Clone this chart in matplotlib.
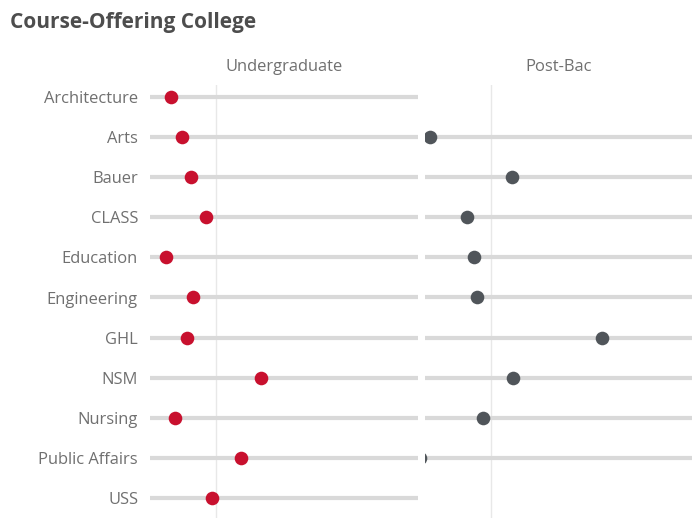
import matplotlib
matplotlib.use("Agg")
import matplotlib.pyplot as plt
import numpy as np

plt.rcParams['font.family'] = ['Open Sans', 'DejaVu Sans']

colleges = ["Architecture", "Arts", "Bauer", "CLASS", "Education", "Engineering",
            "GHL", "NSM", "Nursing", "Public Affairs", "USS"]
undergrad = [-0.168, -0.127, -0.093, -0.037, -0.187, -0.086, -0.108, 0.168, -0.153, 0.093, -0.015]
postbac = [None, -0.228, 0.078, -0.090, -0.063, -0.052, 0.418, 0.082, -0.030, -0.265, None]
panels = ["Undergraduate", "Post-Bac"]

XMIN, XMAX = -0.246, 0.754
W, H = 698, 523
fig = plt.figure(figsize=(W / 100, H / 100), dpi=100)

def px_axes(x0, x1, y0, y1):
    return fig.add_axes([x0 / W, 1 - y1 / H, (x1 - x0) / W, (y1 - y0) / H])

ax1 = px_axes(150, 418, 85, 518)
ax2 = px_axes(425, 692, 85, 518)

label_col = "#707070"
bar_col = "#d9d9d9"
dot_cols = ["#c8102e", "#50555a"]

for ax, vals, col, name in [(ax1, undergrad, dot_cols[0], panels[0]),
                            (ax2, postbac, dot_cols[1], panels[1])]:
    ax.set_xlim(XMIN, XMAX)
    ax.set_ylim(len(colleges) - 0.5, -0.3)
    ax.axvline(0, color="#e8e8e8", lw=1, zorder=1)
    for i, v in enumerate(vals):
        if v is None:
            continue
        ax.hlines(i, XMIN, XMAX, color=bar_col, lw=3, zorder=2)
        ax.plot([v], [i], "o", color=col, ms=9.8, mec="none", zorder=3, clip_on=True)
    for s in ax.spines.values():
        s.set_visible(False)
    ax.set_xticks([])
    ax.set_yticks([])
    pos = ax.get_position()
    fig.text((pos.x0 + pos.x1) / 2, 1 - 65 / H, name,
             ha="center", va="center_baseline", fontsize=11.9, color=label_col)

for i, c in enumerate(colleges):
    y = 97 + 40.1 * i
    fig.text(138 / W, 1 - y / H, c, ha="right", va="center_baseline", fontsize=11.9, color=label_col)

fig.text(10 / W, 1 - 20 / H, "Course-Offering College", ha="left", va="center_baseline",
         fontsize=15, fontweight="bold", color="#4d4d4d")

fig.savefig("out.png", dpi=100)
